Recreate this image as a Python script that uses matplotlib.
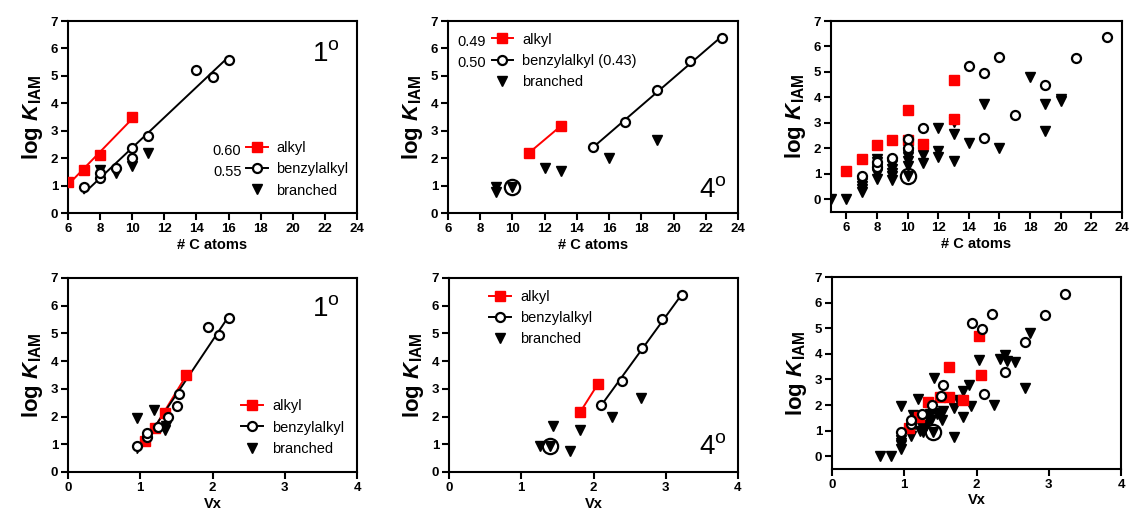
import numpy as np
import matplotlib
matplotlib.use('Agg')
import matplotlib.pyplot as plt

plt.rcParams['font.family'] = ['Liberation Sans', 'DejaVu Sans']
plt.rcParams['mathtext.fontset'] = 'custom'
plt.rcParams['mathtext.rm'] = 'Liberation Sans'
plt.rcParams['mathtext.it'] = 'Liberation Sans:italic:bold'
plt.rcParams['mathtext.bf'] = 'Liberation Sans:bold'

# --- 1 degree, vs number of C atoms
p1_alkyl_x = [6, 7, 8, 10]
p1_alkyl_y = [1.12, 1.57, 2.13, 3.5]
p1_benz_x = [7, 8, 8, 9, 10, 10, 11, 14, 15, 16]
p1_benz_y = [0.93, 1.27, 1.45, 1.63, 2.0, 2.37, 2.8, 5.22, 4.96, 5.57]
p1_br_x = [8, 9, 10, 11]
p1_br_y = [1.55, 1.45, 1.7, 2.18]

# --- 4 degree, vs number of C atoms
p2_alkyl_x = [11, 13]
p2_alkyl_y = [2.18, 3.17]
p2_benz_x = [15, 17, 19, 21, 23]
p2_benz_y = [2.42, 3.3, 4.47, 5.53, 6.37]
p2_br_x = [9, 9, 10, 12, 13, 16, 19]
p2_br_y = [0.93, 0.75, 0.93, 1.65, 1.52, 2.0, 2.67]
p2_ring_x = [10]
p2_ring_y = [0.93]

# --- all compounds, vs number of C atoms
p3_alkyl_x = [6, 7, 8, 9, 10, 10, 11, 13, 13]
p3_alkyl_y = [1.12, 1.57, 2.13, 2.33, 3.5, 2.32, 2.18, 3.17, 4.7]
p3_benz_x = [7, 8, 8, 9, 10, 10, 11, 14, 15, 16, 15, 17, 19, 21, 23]
p3_benz_y = [0.93, 1.27, 1.45, 1.63, 2.0, 2.37, 2.8, 5.22, 4.96, 5.57,
             2.42, 3.3, 4.47, 5.53, 6.37]
p3_br_x = [5, 6, 7, 7, 7, 7, 8, 8, 8, 8, 8, 9, 9, 9, 9, 9, 9,
           10, 10, 10, 10, 10, 11, 11, 11, 12, 12, 12, 13, 13, 13,
           14, 15, 16, 18, 19, 19, 20, 20]
p3_br_y = [0.0, 0.0, 0.3, 0.42, 0.52, 0.62, 0.8, 1.0, 1.2, 1.45, 1.6,
           0.75, 0.9, 1.05, 1.2, 1.35, 1.45, 0.93, 1.3, 1.5, 1.65, 1.75,
           1.42, 1.72, 2.0, 1.65, 1.9, 2.8, 1.52, 2.55, 3.02,
           2.22, 3.75, 2.0, 4.82, 2.67, 3.75, 3.85, 3.95]
p3_ring_x = [10]
p3_ring_y = [0.93]

# --- 1 degree, vs Vx
p4_alkyl_x = [1.07, 1.2, 1.34, 1.63]
p4_alkyl_y = [1.12, 1.57, 2.13, 3.5]
p4_benz_x = [0.96, 1.09, 1.09, 1.24, 1.38, 1.51, 1.53, 1.94, 2.09, 2.23]
p4_benz_y = [0.94, 1.27, 1.42, 1.64, 2.0, 2.37, 2.81, 5.22, 4.96, 5.57]
p4_br_x = [0.96, 1.19, 1.34, 1.36]
p4_br_y = [1.95, 2.22, 1.52, 1.66]

# --- 4 degree, vs Vx
p5_alkyl_x = [1.82, 2.06]
p5_alkyl_y = [2.18, 3.17]
p5_benz_x = [2.1, 2.39, 2.67, 2.95, 3.23]
p5_benz_y = [2.42, 3.3, 4.47, 5.53, 6.37]
p5_br_x = [1.26, 1.4, 1.44, 1.68, 1.82, 2.25, 2.66]
p5_br_y = [0.95, 0.95, 1.65, 0.77, 1.52, 2.0, 2.67]
p5_ring_x = [1.4]
p5_ring_y = [0.93]

# --- all compounds, vs Vx
p6_alkyl_x = [1.07, 1.2, 1.33, 1.49, 1.62, 1.62, 1.82, 2.06, 2.04]
p6_alkyl_y = [1.12, 1.55, 2.12, 2.33, 3.5, 2.33, 2.18, 3.17, 4.7]
p6_benz_x = [0.96, 1.09, 1.09, 1.24, 1.38, 1.51, 1.53, 1.94, 2.08, 2.22,
             2.1, 2.4, 2.67, 2.95, 3.23]
p6_benz_y = [0.93, 1.27, 1.42, 1.63, 2.0, 2.37, 2.8, 5.22, 4.96, 5.57,
             2.43, 3.29, 4.47, 5.53, 6.35]
p6_br_x = [0.67, 0.81, 0.95, 0.95, 0.95, 0.95, 0.96, 1.1, 1.1, 1.12,
           1.19, 1.22, 1.24, 1.26, 1.27, 1.3, 1.33, 1.35, 1.37, 1.4,
           1.41, 1.45, 1.5, 1.52, 1.53, 1.69, 1.69, 1.75, 1.82, 1.82,
           1.9, 1.92, 2.03, 2.24, 2.33, 2.4, 2.42, 2.53, 2.67, 2.74]
p6_br_y = [0.0, 0.0, 0.3, 0.42, 0.52, 0.62, 1.95, 0.8, 1.0, 1.6,
           2.22, 1.0, 1.15, 0.93, 1.05, 1.2, 1.5, 1.65, 1.4, 0.93,
           3.05, 1.65, 1.7, 1.43, 1.75, 0.75, 1.9, 2.2, 1.52, 2.55,
           2.8, 1.95, 3.75, 2.0, 3.8, 3.95, 3.7, 3.68, 2.67, 4.82]
p6_ring_x = [1.4]
p6_ring_y = [0.93]

RED = '#ff0000'
YLABEL = r'$\mathbf{log}\ \mathit{K}_{\mathbf{IAM}}$'


def style(ax, xlim, ylim, xticks, xlabel):
    ax.set_xlim(*xlim)
    ax.set_ylim(*ylim)
    ax.set_xticks(xticks)
    ax.set_yticks(range(0, 8))
    for s in ax.spines.values():
        s.set_linewidth(1.5)
    ax.tick_params(direction='out', length=5, width=1.5, labelsize=9.5, pad=2)
    for lab in ax.get_xticklabels() + ax.get_yticklabels():
        lab.set_fontweight('bold')
    ax.set_xlabel(xlabel, fontsize=10.5, fontweight='bold', labelpad=2)
    ax.set_ylabel(YLABEL, fontsize=16, labelpad=4)


def fit_line(ax, x, y, color):
    x = np.asarray(x, float)
    y = np.asarray(y, float)
    k, b = np.polyfit(x, y, 1)
    xs = np.array([x.min(), x.max()])
    ln, = ax.plot(xs, k * xs + b, color=color, lw=1.4, zorder=2)
    return ln


def series(ax, d, lines=True, ring=None):
    ax_, ay, bx, by, tx, ty = d
    tri, = ax.plot(tx, ty, 'v', color='black', ms=7, ls='none', zorder=3)
    sq, = ax.plot(ax_, ay, 's', color=RED, ms=6.5, ls='none', zorder=4)
    circ, = ax.plot(bx, by, 'o', mfc='white', mec='black', mew=1.6, ms=6.5,
                    ls='none', zorder=5)
    if ring is not None:
        ax.plot(ring[0], ring[1], 'o', mfc='none', mec='black', mew=1.6,
                ms=11, ls='none', zorder=6)
    if lines:
        l1 = fit_line(ax, ax_, ay, RED)
        l2 = fit_line(ax, bx, by, 'black')
        return [(l1, sq), (l2, circ), tri]
    return [sq, circ, tri]


def legend(ax, handles, labels, x, y):
    ax.legend(handles, labels, loc='upper left', bbox_to_anchor=(x, y),
              frameon=False, fontsize=10.5, handlelength=1.5,
              handletextpad=0.6, labelspacing=0.5, borderpad=0,
              borderaxespad=0)


def degree(ax, txt, x, y):
    ax.text(x, y, txt + r'$^{\mathrm{o}}$', transform=ax.transAxes,
            fontsize=20, ha='left', va='center')


fig = plt.figure(figsize=(11.29, 5.14), dpi=100)
W, H = 1129, 514


def add_axes(l, r, t, b):
    return fig.add_axes([l / W, 1 - b / H, (r - l) / W, (b - t) / H])


names = ['alkyl', 'benzylalkyl', 'branched']

# panel 1
ax = add_axes(68, 357, 21, 213)
h = series(ax, (p1_alkyl_x, p1_alkyl_y, p1_benz_x, p1_benz_y, p1_br_x, p1_br_y))
style(ax, (6, 24), (0, 7), range(6, 25, 2), '# C atoms')
legend(ax, h, names, 0.615, 0.375)
ax.text(0.6, 0.325, '0.60', transform=ax.transAxes, fontsize=10.5, ha='right', va='center')
ax.text(0.6, 0.215, '0.55', transform=ax.transAxes, fontsize=10.5, ha='right', va='center')
degree(ax, '1', 0.845, 0.83)

# panel 2
ax = add_axes(448, 738, 21, 213)
h = series(ax, (p2_alkyl_x, p2_alkyl_y, p2_benz_x, p2_benz_y, p2_br_x, p2_br_y),
           ring=(p2_ring_x, p2_ring_y))
style(ax, (6, 24), (0, 7), range(6, 25, 2), '# C atoms')
legend(ax, h, ['alkyl', 'benzylalkyl (0.43)', 'branched'], 0.15, 0.94)
ax.text(0.13, 0.89, '0.49', transform=ax.transAxes, fontsize=10.5, ha='right', va='center')
ax.text(0.13, 0.78, '0.50', transform=ax.transAxes, fontsize=10.5, ha='right', va='center')
degree(ax, '4', 0.865, 0.12)

# panel 3
ax = add_axes(831, 1122, 21, 212)
series(ax, (p3_alkyl_x, p3_alkyl_y, p3_benz_x, p3_benz_y, p3_br_x, p3_br_y),
       lines=False, ring=(p3_ring_x, p3_ring_y))
style(ax, (5, 24), (-0.5, 7), range(6, 25, 2), '# C atoms')

# panel 4
ax = add_axes(68, 357, 278, 472)
h = series(ax, (p4_alkyl_x, p4_alkyl_y, p4_benz_x, p4_benz_y, p4_br_x, p4_br_y))
style(ax, (0, 4), (0, 7), range(0, 5), 'Vx')
legend(ax, h, names, 0.6, 0.375)
degree(ax, '1', 0.845, 0.84)

# panel 5
ax = add_axes(449, 738, 278, 472)
h = series(ax, (p5_alkyl_x, p5_alkyl_y, p5_benz_x, p5_benz_y, p5_br_x, p5_br_y),
           ring=(p5_ring_x, p5_ring_y))
style(ax, (0, 4), (0, 7), range(0, 5), 'Vx')
legend(ax, h, names, 0.14, 0.94)
degree(ax, '4', 0.865, 0.13)

# panel 6
ax = add_axes(832, 1121, 277, 469)
series(ax, (p6_alkyl_x, p6_alkyl_y, p6_benz_x, p6_benz_y, p6_br_x, p6_br_y),
       lines=False, ring=(p6_ring_x, p6_ring_y))
style(ax, (0, 4), (-0.5, 7), range(0, 5), 'Vx')

fig.savefig('out.png', dpi=100)
